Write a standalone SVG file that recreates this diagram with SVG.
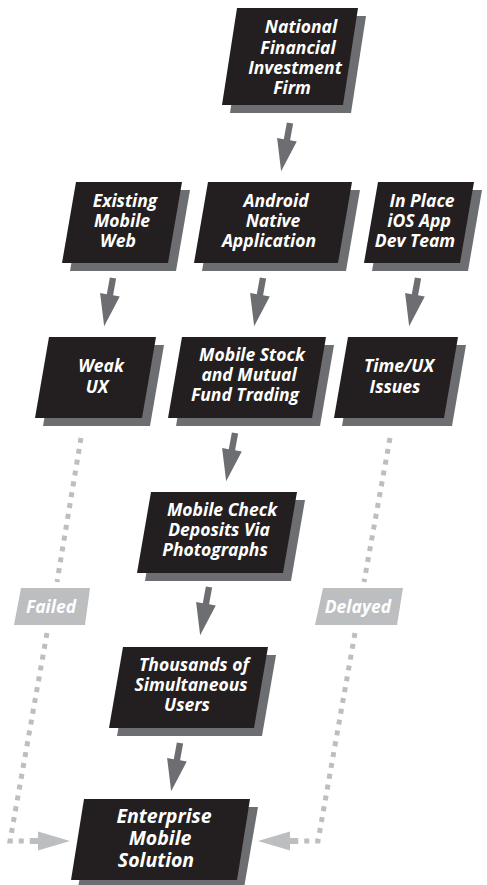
<svg xmlns="http://www.w3.org/2000/svg" xmlns:xlink="http://www.w3.org/1999/xlink" width="487" height="885" viewBox="0 0 487 885">
<style>
.sh{fill:#6d6e71}
.bx{fill:#231f20}
.lb{fill:#bcbec0}
text{font-family:"Open Sans","Noto Sans","DejaVu Sans",sans-serif;font-weight:700;font-style:italic;font-size:17.5px;fill:#ffffff;text-anchor:middle}
.big{font-size:19.5px}
.dot{fill:none;stroke:#bcbec0;stroke-width:5;stroke-dasharray:5 6}
.arr{fill:#6d6e71}
.larr{fill:#bcbec0}
</style>
<defs>
<polygon id="arrow" points="-3.2,0 3.2,0 3.2,17 10,17 0,49 -10,17 -3.2,17"/>
</defs>
<rect width="487" height="885" fill="#ffffff"/>

<g id="connectors">
<use xlink:href="#arrow" class="arr" transform="translate(290,123) rotate(10.4)"/>
<use xlink:href="#arrow" class="arr" transform="translate(113,278) rotate(10.4)"/>
<use xlink:href="#arrow" class="arr" transform="translate(263,278) rotate(10.4)"/>
<use xlink:href="#arrow" class="arr" transform="translate(418,278) rotate(10.4)"/>
<use xlink:href="#arrow" class="arr" transform="translate(235,433) rotate(10.4)"/>
<use xlink:href="#arrow" class="arr" transform="translate(209,587) rotate(10.4)"/>
<use xlink:href="#arrow" class="arr" transform="translate(180,743) rotate(10.4)"/>
<polyline class="dot" points="81,438 57,582"/>
<polyline class="dot" points="47,633 10,841 30,841"/>
<polygon class="larr" points="30,838 38,838 38,831.5 70,841 38,850.5 38,844 30,844"/>
<polyline class="dot" points="390,438 364,582"/>
<polyline class="dot" points="355,633 318,841 298,841"/>
<polygon class="larr" points="298,838 290,838 290,831.5 258,841 290,850.5 290,844 298,844"/>
</g>

<g id="label-failed">
<polygon class="lb" points="21,588 90,588 85,625 14,625"/>
<text x="51" y="613">Failed</text>
</g>
<g id="label-delayed">
<polygon class="lb" points="323,588 403,588 397,625 315,625"/>
<text x="358" y="613">Delayed</text>
</g>

<g id="node-firm">
<polygon class="sh" points="245,16 366,16 351,113 230,113"/>
<polygon class="bx" points="237,8 358,8 343,105 222,105"/>
<text x="301" y="33">National</text>
<text x="298" y="54">Financial</text>
<text x="295" y="74">Investment</text>
<text x="292" y="94">Firm</text>
</g>

<g id="node-existing">
<polygon class="sh" points="84,190 190,190 176,271 70,271"/>
<polygon class="bx" points="76,182 182,182 168,263 62,263"/>
<text x="125" y="207">Existing</text>
<text x="122" y="227">Mobile</text>
<text x="118" y="247">Web</text>
</g>

<g id="node-android">
<polygon class="sh" points="216,190 360,190 346,271 202,271"/>
<polygon class="bx" points="208,182 352,182 338,263 194,263"/>
<text x="276" y="207">Android</text>
<text x="273" y="227">Native</text>
<text x="269" y="247">Application</text>
</g>

<g id="node-ios">
<polygon class="sh" points="386,190 482,190 468,271 372,271"/>
<polygon class="bx" points="378,182 474,182 460,263 364,263"/>
<text x="422" y="207">In Place</text>
<text x="419" y="227">iOS App</text>
<text x="415" y="247">Dev Team</text>
</g>

<g id="node-weak">
<polygon class="sh" points="57,345 164,345 150,426 43,426"/>
<polygon class="bx" points="49,337 156,337 142,418 35,418"/>
<text x="101" y="372">Weak</text>
<text x="97" y="393">UX</text>
</g>

<g id="node-trading">
<polygon class="sh" points="190,345 334,345 320,426 176,426"/>
<polygon class="bx" points="182,337 326,337 312,418 168,418"/>
<text x="252" y="361">Mobile Stock</text>
<text x="249" y="381">and Mutual</text>
<text x="245" y="401">Fund Trading</text>
</g>

<g id="node-time">
<polygon class="sh" points="356,345 466,345 452,426 342,426"/>
<polygon class="bx" points="348,337 458,337 444,418 334,418"/>
<text x="399" y="372">Time/UX</text>
<text x="395" y="393">Issues</text>
</g>

<g id="node-check">
<polygon class="sh" points="159,500 305,500 291,581 145,581"/>
<polygon class="bx" points="151,492 297,492 283,573 137,573"/>
<text x="222" y="516">Mobile Check</text>
<text x="219" y="536">Deposits Via</text>
<text x="215" y="556">Photographs</text>
</g>

<g id="node-users">
<polygon class="sh" points="131,655 276,655 262,736 117,736"/>
<polygon class="bx" points="123,647 268,647 254,728 109,728"/>
<text x="194" y="671">Thousands of</text>
<text x="191" y="691">Simultaneous</text>
<text x="187" y="711">Users</text>
</g>

<g id="node-enterprise">
<polygon class="sh" points="92,807 258,807 244,888 78,888"/>
<polygon class="bx" points="84,799 250,799 237,880 71,880"/>
<text class="big" x="164" y="823">Enterprise</text>
<text class="big" x="160" y="845">Mobile</text>
<text class="big" x="156" y="867">Solution</text>
</g>
</svg>
